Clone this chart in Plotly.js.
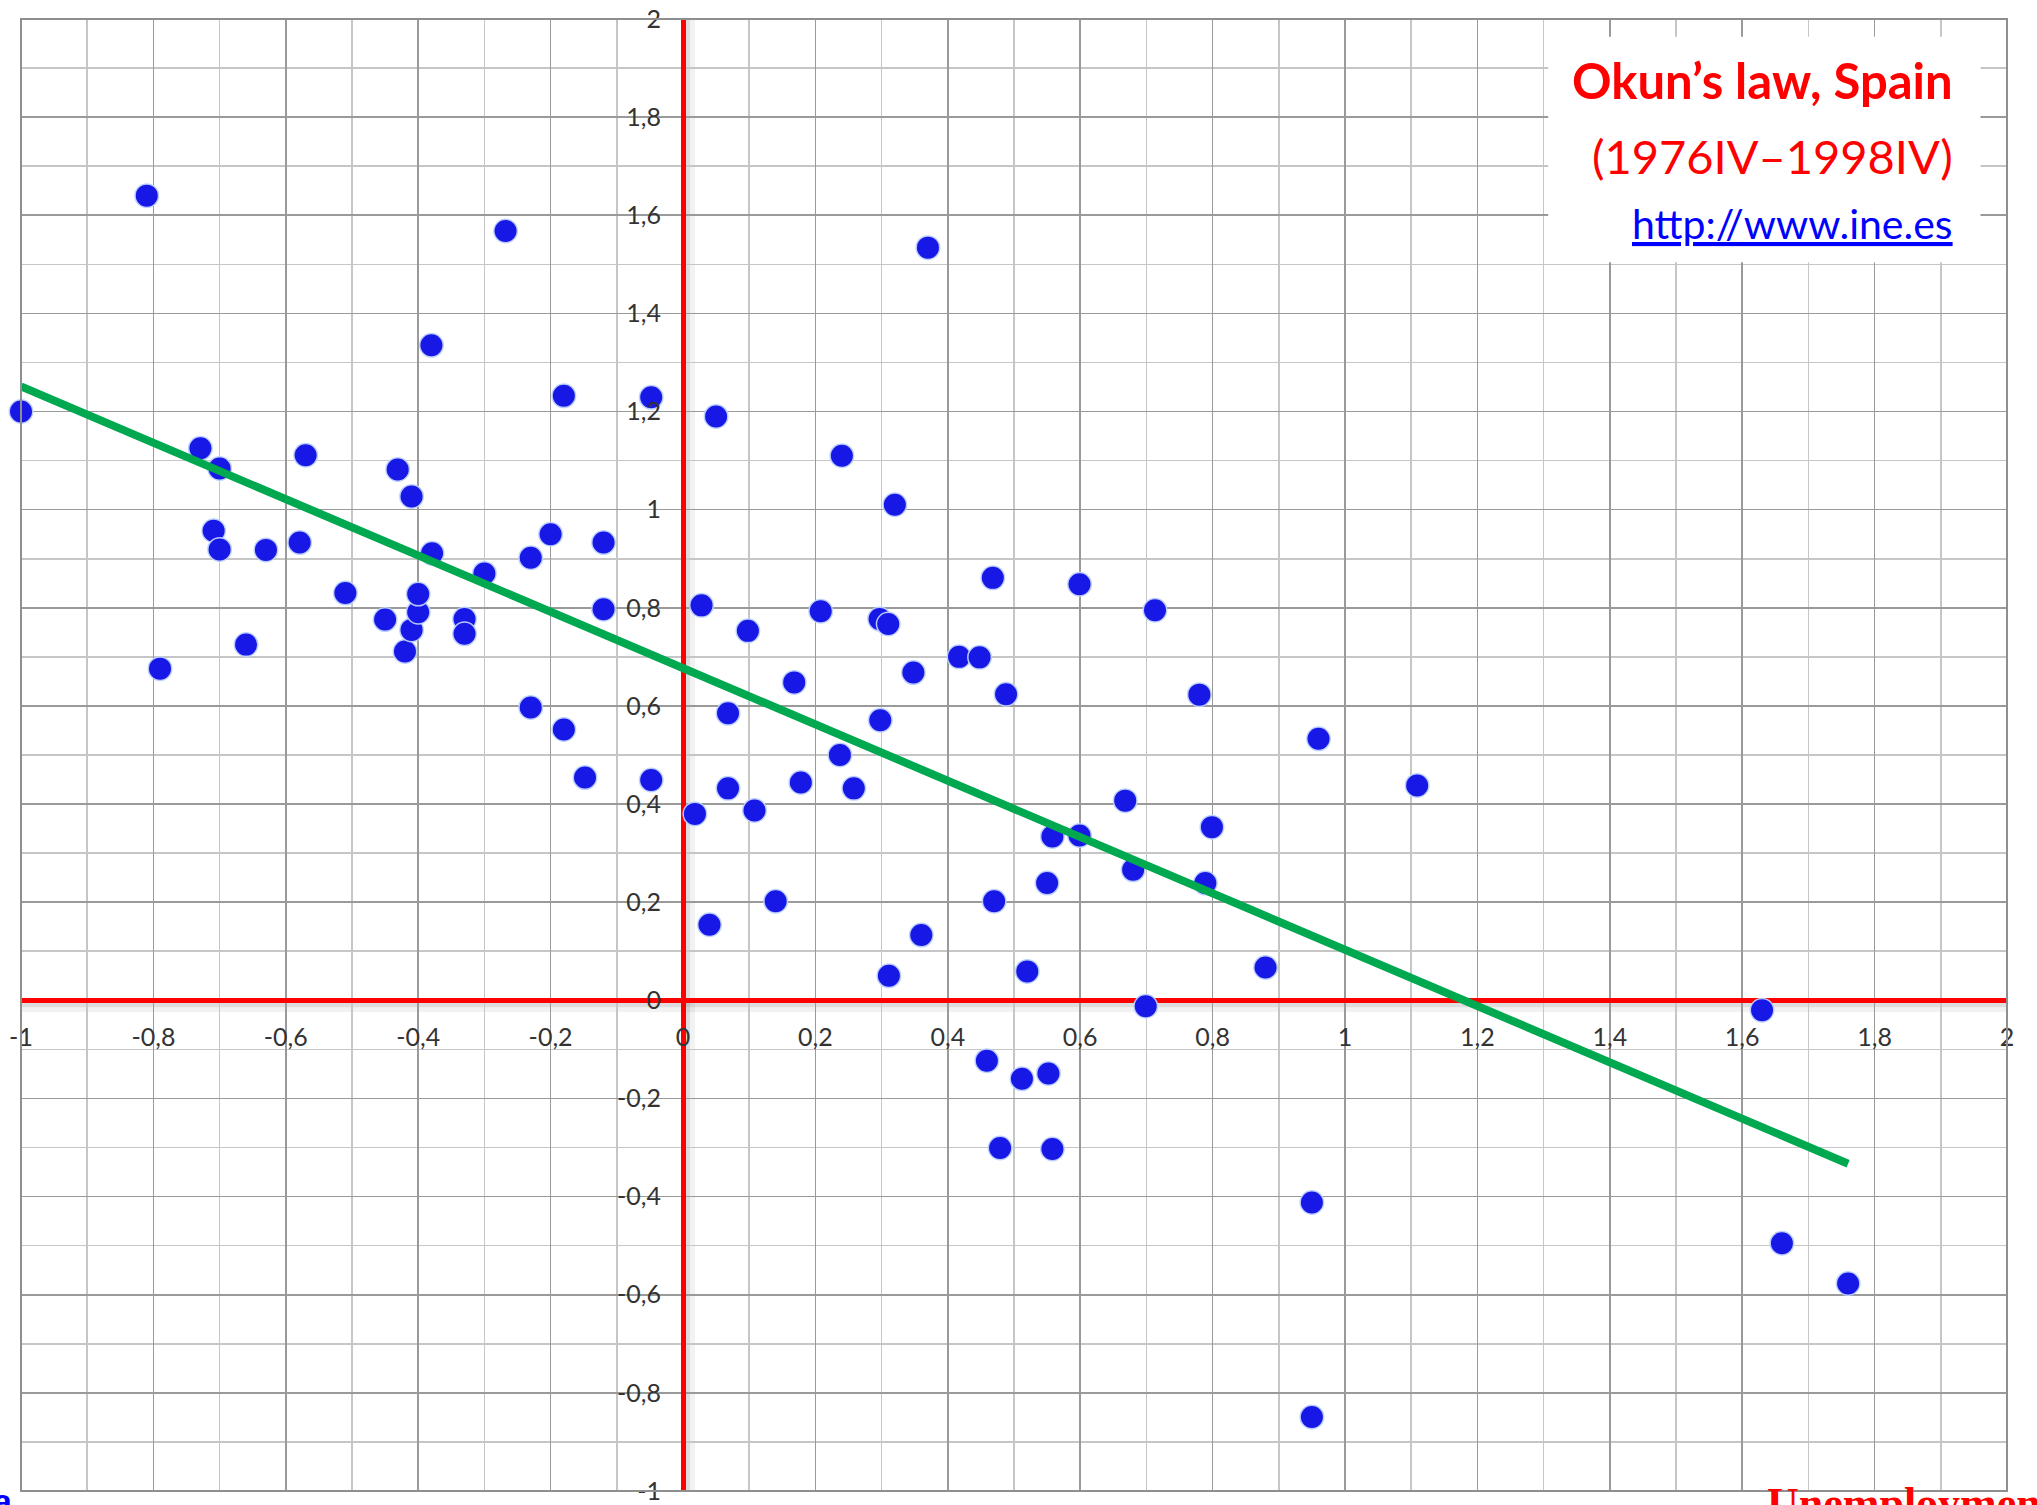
<!DOCTYPE html>
<html><head><meta charset="utf-8">
<script src="https://cdn.plot.ly/plotly-3.0.1.min.js"></script>
<style>html,body{margin:0;padding:0;background:#fff;overflow:hidden}</style>
</head><body><div id="chart" style="width:2037px;height:1505px"></div>
<script>
// Change in unemployment rate (x) vs GDP growth (y), Spain quarterly 1976IV–1998IV
const unemploymentChange = [
  -1.00,-0.81,-0.79,-0.729,-0.70,-0.709,-0.70,-0.66,-0.63,-0.579,
  -0.57,-0.51,-0.45,-0.431,-0.41,-0.42,-0.41,-0.40,-0.40,-0.38,
  -0.379,-0.33,-0.33,-0.30,-0.268,-0.23,-0.23,-0.20,-0.18,-0.18,
  -0.148,-0.12,-0.12,-0.048,-0.048,0.018,0.028,0.04,0.05,0.068,
  0.068,0.098,0.108,0.14,0.168,0.178,0.208,0.24,0.237,0.258,
  0.297,0.310,0.298,0.311,0.32,0.348,0.36,0.37,0.417,0.448,
  0.459,0.468,0.47,0.479,0.488,0.512,0.520,0.55,0.552,0.558,
  0.558,0.599,0.599,0.668,0.68,0.699,0.713,0.78,0.789,0.799,
  0.88,0.95,0.95,0.96,1.109,1.63,1.66,1.76
];
const gdpGrowth = [
  1.20,1.64,0.676,1.125,1.084,0.957,0.919,0.725,0.918,0.933,
  1.111,0.83,0.776,1.082,1.027,0.711,0.755,0.791,0.828,1.335,
  0.911,0.777,0.747,0.870,1.568,0.902,0.597,0.950,1.232,0.552,
  0.454,0.933,0.797,1.229,0.449,0.380,0.805,0.154,1.19,0.585,
  0.432,0.753,0.387,0.202,0.648,0.444,0.793,1.11,0.500,0.432,
  0.777,0.767,0.571,0.05,1.01,0.668,0.133,1.534,0.700,0.699,
  -0.123,0.861,0.202,-0.301,0.624,-0.160,0.059,0.239,-0.149,0.334,
  -0.303,0.848,0.336,0.407,0.266,-0.012,0.795,0.623,0.239,0.353,
  0.067,-0.412,-0.849,0.533,0.438,-0.02,-0.495,-0.577
];
// Fitted line end points
const fitX = [-1.0, 1.76];
const fitY = [1.251, -0.333];

const xTickVals = [-1,-0.8,-0.6,-0.4,-0.2,0,0.2,0.4,0.6,0.8,1,1.2,1.4,1.6,1.8,2];
const xTickText = ["-1","-0,8","-0,6","-0,4","-0,2","0","0,2","0,4","0,6","0,8","1","1,2","1,4","1,6","1,8","2"];
const yTickVals = [-1,-0.8,-0.6,-0.4,-0.2,0,0.2,0.4,0.6,0.8,1,1.2,1.4,1.6,1.8,2];
const yTickText = ["-1","-0,8","-0,6","-0,4","-0,2","0","0,2","0,4","0,6","0,8","1","1,2","1,4","1,6","1,8","2"];

const tickFont = {family: 'Lato, "Open Sans", sans-serif', size: 25, color: '#333333'};

const traces = [
  {
    x: unemploymentChange, y: gdpGrowth, type: 'scatter', mode: 'markers',
    marker: {size: 23.5, color: '#1818e6', line: {color: 'rgba(190,210,255,0.95)', width: 1.5}},
    hoverinfo: 'skip', cliponaxis: false
  },
  {
    x: fitX, y: fitY, type: 'scatter', mode: 'lines',
    line: {color: '#00a84f', width: 8}, hoverinfo: 'skip'
  }
];

const axisCommon = {
  tickmode: 'array', showgrid: true, gridcolor: '#9a9a9a', gridwidth: 1.6,
  minor: {tickmode: 'linear', tick0: -1, dtick: 0.1, showgrid: true, gridcolor: '#c6c6c6', gridwidth: 1.6, ticks: ''},
  zeroline: true, zerolinecolor: '#ff0000', zerolinewidth: 5,
  anchor: 'free', position: 1/3, ticks: '', showline: false,
  tickfont: tickFont, fixedrange: true, automargin: false
};

const layout = {
  width: 2037, height: 1505,
  margin: {l: 21, r: 30, t: 19, b: 14},
  paper_bgcolor: '#ffffff', plot_bgcolor: '#ffffff',
  showlegend: false,
  xaxis: Object.assign({}, axisCommon, {range: [-1, 2], tickvals: xTickVals, ticktext: xTickText, ticklabelstandoff: 20}),
  yaxis: Object.assign({}, axisCommon, {range: [-1, 2], tickvals: yTickVals, ticktext: yTickText, ticklabelstandoff: 22}),
  shapes: [
    // shadows of red axes
    {type: 'rect', layer: 'below', xref: 'x', xsizemode: 'pixel', xanchor: 0, x0: 2, x1: 7, yref: 'paper', y0: 0, y1: 1, fillcolor: 'rgba(0,0,0,0.13)', line: {width: 0}},
    {type: 'rect', layer: 'below', xref: 'x', xsizemode: 'pixel', xanchor: 0, x0: 7, x1: 12, yref: 'paper', y0: 0, y1: 1, fillcolor: 'rgba(0,0,0,0.05)', line: {width: 0}},
    {type: 'rect', layer: 'below', yref: 'y', ysizemode: 'pixel', yanchor: 0, y0: -2, y1: -7, xref: 'paper', x0: 0, x1: 1, fillcolor: 'rgba(0,0,0,0.13)', line: {width: 0}},
    {type: 'rect', layer: 'below', yref: 'y', ysizemode: 'pixel', yanchor: 0, y0: -7, y1: -12, xref: 'paper', x0: 0, x1: 1, fillcolor: 'rgba(0,0,0,0.05)', line: {width: 0}},
    // plot border
    {type: 'rect', layer: 'above', xref: 'paper', yref: 'paper', x0: 0, x1: 1, y0: 0, y1: 1, line: {color: '#8f8f8f', width: 2}},
    // white title box
    {type: 'rect', layer: 'above', xref: 'x', yref: 'y', x0: 1.307, x1: 1.96, y0: 1.504, y1: 1.964, fillcolor: '#ffffff', line: {width: 0}}
  ],
  annotations: [
    {text: '<b>Okun’s law, Spain</b>', xref: 'x', yref: 'y', x: 1.921, y: 1.875, xanchor: 'right', yanchor: 'middle', showarrow: false,
     font: {family: 'Lato, "Open Sans", sans-serif', size: 49, color: '#ff0000'}},
    {text: '(1976IV–1998IV)', xref: 'x', yref: 'y', x: 1.921, y: 1.72, xanchor: 'right', yanchor: 'middle', showarrow: false,
     font: {family: 'Lato, "Open Sans", sans-serif', size: 47, color: '#ff0000'}},
    {text: '<u>http://www.ine.es</u>', xref: 'x', yref: 'y', x: 1.921, y: 1.583, xanchor: 'right', yanchor: 'middle', showarrow: false,
     font: {family: 'Lato, "Open Sans", sans-serif', size: 41, color: '#0000ff'}},
    {text: '<b>Unemployment</b>', xref: 'paper', yref: 'paper', x: 0.878, y: 0.0095, xanchor: 'left', yanchor: 'top', showarrow: false,
     font: {family: '"Liberation Serif", "DejaVu Serif", serif', size: 44, color: '#ff0000'}},
    {text: '<b>a</b>', xref: 'paper', yref: 'paper', x: -0.003, y: 0.0075, xanchor: 'right', yanchor: 'top', showarrow: false,
     font: {family: '"Liberation Sans", sans-serif', size: 34, color: '#0000ff'}}
  ]
};

Plotly.newPlot('chart', traces, layout, {displayModeBar: false, staticPlot: true});
</script>
</body></html>
